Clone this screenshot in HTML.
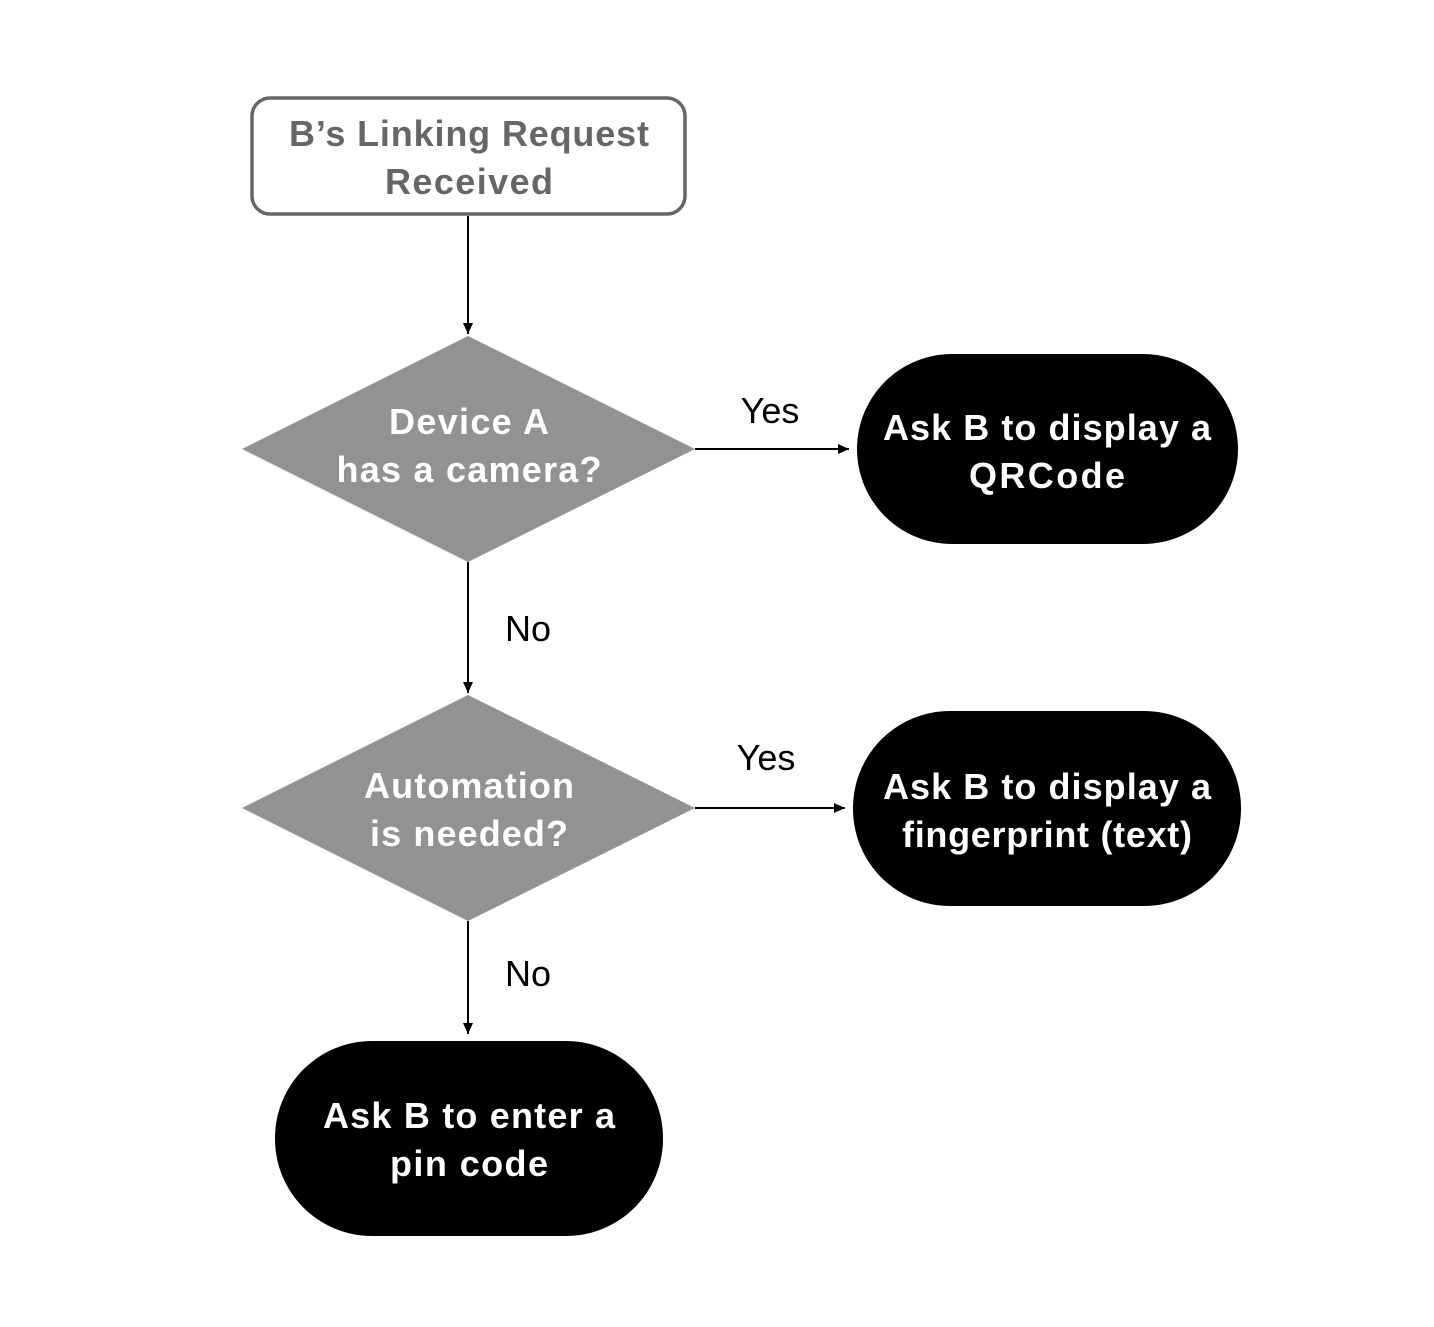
<!DOCTYPE html>
<html><head><style>
html,body{margin:0;padding:0;background:#fff;}
svg text{font-family:"Liberation Sans",Arial,sans-serif;}
</style></head><body>
<svg width="1434" height="1322" viewBox="0 0 1434 1322" xmlns="http://www.w3.org/2000/svg">
<defs><marker id="a" markerWidth="12" markerHeight="12" refX="11" refY="5" orient="auto" markerUnits="userSpaceOnUse"><path d="M0,0 L11,5 L0,10 z" fill="#000"/></marker></defs>
<rect x="252" y="98" width="433" height="116" rx="18" fill="#fff" stroke="#666" stroke-width="3.5"/>
<text x="469" y="146" font-size="36" font-weight="bold" fill="#666" text-anchor="middle" textLength="360">B’s Linking Request</text>
<text x="469" y="194" font-size="36" font-weight="bold" fill="#666" text-anchor="middle" textLength="168">Received</text>
<line x1="468" y1="216" x2="468" y2="334" stroke="#000" stroke-width="2" marker-end="url(#a)"/>
<polygon points="468,336 695,449 468,562 242,449" fill="#929292"/>
<text x="469" y="434" font-size="36" font-weight="bold" fill="#fff" text-anchor="middle" textLength="160">Device A</text>
<text x="469" y="482" font-size="36" font-weight="bold" fill="#fff" text-anchor="middle" textLength="265">has a camera?</text>
<line x1="695" y1="449" x2="849" y2="449" stroke="#000" stroke-width="2" marker-end="url(#a)"/>
<text x="770" y="423" font-size="36" fill="#000" text-anchor="middle">Yes</text>
<rect x="857" y="354" width="381" height="190" rx="95" fill="#000"/>
<text x="1047" y="440" font-size="36" font-weight="bold" fill="#fff" text-anchor="middle" textLength="328">Ask B to display a</text>
<text x="1047" y="488" font-size="36" font-weight="bold" fill="#fff" text-anchor="middle" textLength="156">QRCode</text>
<line x1="468" y1="562" x2="468" y2="693" stroke="#000" stroke-width="2" marker-end="url(#a)"/>
<text x="528" y="641" font-size="36" fill="#000" text-anchor="middle">No</text>
<polygon points="468,695 695,808 468,921 242,808" fill="#929292"/>
<text x="469" y="798" font-size="36" font-weight="bold" fill="#fff" text-anchor="middle" textLength="210">Automation</text>
<text x="469" y="846" font-size="36" font-weight="bold" fill="#fff" text-anchor="middle" textLength="198">is needed?</text>
<line x1="695" y1="808" x2="845" y2="808" stroke="#000" stroke-width="2" marker-end="url(#a)"/>
<text x="766" y="770" font-size="36" fill="#000" text-anchor="middle">Yes</text>
<rect x="853" y="711" width="388" height="195" rx="97" fill="#000"/>
<text x="1047" y="799" font-size="36" font-weight="bold" fill="#fff" text-anchor="middle" textLength="328">Ask B to display a</text>
<text x="1047" y="847" font-size="36" font-weight="bold" fill="#fff" text-anchor="middle" textLength="290">fingerprint (text)</text>
<line x1="468" y1="921" x2="468" y2="1034" stroke="#000" stroke-width="2" marker-end="url(#a)"/>
<text x="528" y="986" font-size="36" fill="#000" text-anchor="middle">No</text>
<rect x="275" y="1041" width="388" height="195" rx="97" fill="#000"/>
<text x="469" y="1128" font-size="36" font-weight="bold" fill="#fff" text-anchor="middle" textLength="292">Ask B to enter a</text>
<text x="469" y="1176" font-size="36" font-weight="bold" fill="#fff" text-anchor="middle" textLength="158">pin code</text>
</svg>
</body></html>
